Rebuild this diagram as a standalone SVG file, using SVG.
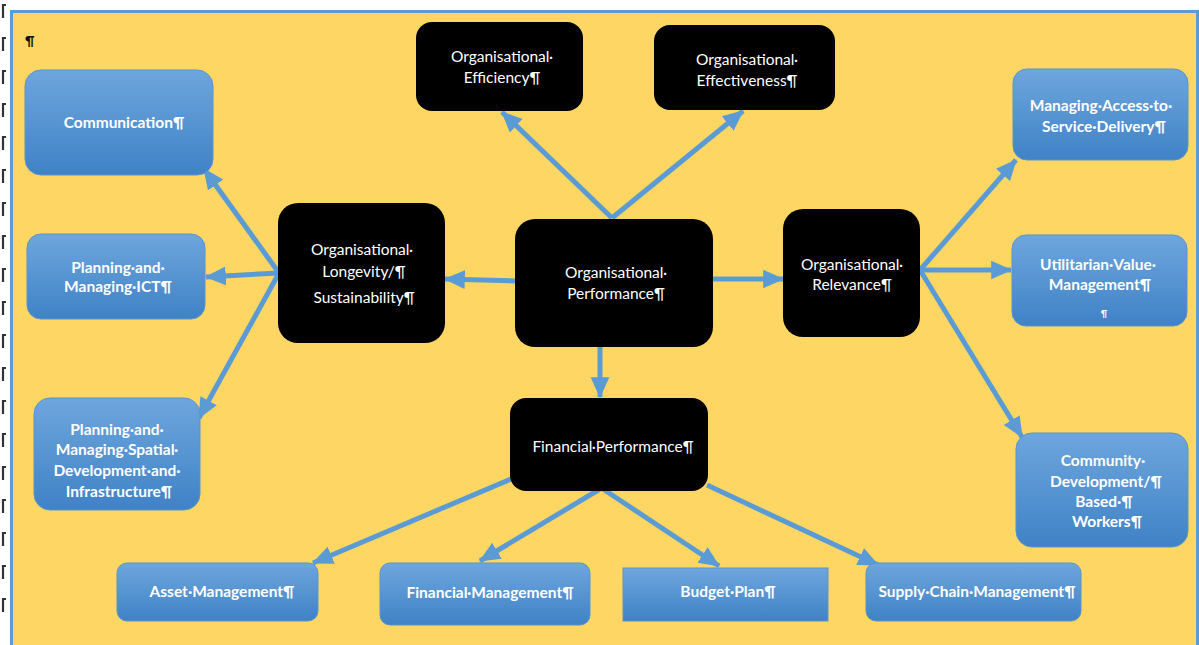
<svg xmlns="http://www.w3.org/2000/svg" width="1199" height="645" viewBox="0 0 1199 645">
  <defs>
    <linearGradient id="blueFill" x1="0" y1="0" x2="0" y2="1">
      <stop offset="0" stop-color="#6ea6dd"/>
      <stop offset="1" stop-color="#3f82c6"/>
    </linearGradient>
    <marker id="arrow" markerUnits="userSpaceOnUse" markerWidth="22" markerHeight="22" viewBox="0 0 20 20" refX="18" refY="10" orient="auto">
      <path d="M0,1.5 L19,10 L0,18.5 Z" fill="#5b9bd5"/>
    </marker>
    <style>
      .frame { fill: #fdd663; stroke: #5b9bd5; stroke-width: 3; }
      .mark { fill: none; stroke: #333; stroke-width: 2.2; }
      .blue { fill: url(#blueFill); stroke: #5b93cc; stroke-width: 1; }
      .black { fill: #000; }
      .bt { font-family: Lato, "Liberation Sans", sans-serif; font-weight: bold; font-size: 15.5px; fill: #fff; text-anchor: middle; }
      .wt { font-family: Lato, "Liberation Sans", sans-serif; font-size: 15.5px; fill: #fff; text-anchor: middle; }
      .link { fill: none; stroke: #5b9bd5; stroke-width: 5; marker-end: url(#arrow); }
      .pil { font-family: Lato, "Liberation Sans", sans-serif; font-weight: bold; font-size: 13px; fill: #111; }
    </style>
  </defs>

  <rect width="1199" height="645" fill="#fff"/>

  <!-- text boundary marks in the left margin -->
  <g id="margin-marks">
    <path class="mark" d="M6,5 h-3 v13 M6,38 h-3 v13 M6,71 h-3 v13 M6,104 h-3 v13 M6,137 h-3 v13 M6,170 h-3 v13 M6,203 h-3 v13 M6,236 h-3 v13 M6,269 h-3 v13 M6,302 h-3 v13 M6,335 h-3 v13 M6,368 h-3 v13 M6,401 h-3 v13 M6,434 h-3 v13 M6,467 h-3 v13 M6,500 h-3 v13 M6,533 h-3 v13 M6,566 h-3 v13 M6,599 h-3 v13"/>
  </g>

  <!-- canvas -->
  <rect class="frame" x="11.5" y="11.5" width="1186" height="640"/>
  <text class="pil" x="25" y="46">¶</text>

  <!-- connectors -->
  <g id="connectors">
    <line class="link" x1="612" y1="218" x2="502" y2="112"/>
    <line class="link" x1="612" y1="218" x2="743" y2="111"/>
    <line class="link" x1="279" y1="273" x2="204" y2="169"/>
    <line class="link" x1="279" y1="273" x2="206" y2="277"/>
    <line class="link" x1="279" y1="273" x2="199" y2="418"/>
    <line class="link" x1="515" y1="281" x2="445" y2="279"/>
    <line class="link" x1="713" y1="279" x2="783" y2="279"/>
    <line class="link" x1="600" y1="347" x2="600" y2="397"/>
    <line class="link" x1="920" y1="270" x2="1016" y2="160"/>
    <line class="link" x1="920" y1="270" x2="1011" y2="270"/>
    <line class="link" x1="920" y1="270" x2="1022" y2="437"/>
    <line class="link" x1="511" y1="479" x2="313" y2="563"/>
    <line class="link" x1="600" y1="489" x2="480" y2="561"/>
    <line class="link" x1="603" y1="489" x2="719" y2="566"/>
    <line class="link" x1="707" y1="485" x2="878" y2="565"/>
  </g>

  <!-- central and secondary nodes -->
  <g id="org-performance">
    <rect class="black" x="515" y="219" width="198" height="128" rx="20"/>
    <text class="wt" x="616" y="278">Organisational·</text>
    <text class="wt" x="616" y="299">Performance¶</text>
  </g>
  <g id="org-efficiency">
    <rect class="black" x="416" y="22" width="167" height="89" rx="16"/>
    <text class="wt" x="502" y="62">Organisational·</text>
    <text class="wt" x="502" y="83">Efficiency¶</text>
  </g>
  <g id="org-effectiveness">
    <rect class="black" x="654" y="25" width="181" height="85" rx="16"/>
    <text class="wt" x="747" y="65">Organisational·</text>
    <text class="wt" x="747" y="86">Effectiveness¶</text>
  </g>
  <g id="org-longevity">
    <rect class="black" x="278" y="203" width="167" height="140" rx="20"/>
    <text class="wt" x="362" y="255">Organisational·</text>
    <text class="wt" x="364" y="277">Longevity/¶</text>
    <text class="wt" x="364" y="303">Sustainability¶</text>
  </g>
  <g id="org-relevance">
    <rect class="black" x="783" y="209" width="137" height="128" rx="20"/>
    <text class="wt" x="852" y="270">Organisational·</text>
    <text class="wt" x="852" y="290">Relevance¶</text>
  </g>
  <g id="financial-performance">
    <rect class="black" x="510" y="398" width="198" height="93" rx="16"/>
    <text class="wt" x="613" y="452">Financial·Performance¶</text>
  </g>

  <!-- left branch -->
  <g id="communication">
    <rect class="blue" x="25" y="70" width="188" height="105" rx="16"/>
    <text class="bt" x="124" y="128">Communication¶</text>
  </g>
  <g id="planning-ict">
    <rect class="blue" x="27" y="234" width="178" height="85" rx="14"/>
    <text class="bt" x="118" y="273">Planning·and·</text>
    <text class="bt" x="118" y="292">Managing·ICT¶</text>
  </g>
  <g id="planning-spatial">
    <rect class="blue" x="34" y="398" width="166" height="112" rx="16"/>
    <text class="bt" x="117" y="435">Planning·and·</text>
    <text class="bt" x="117" y="455">Managing·Spatial·</text>
    <text class="bt" x="117" y="476">Development·and·</text>
    <text class="bt" x="119" y="497">Infrastructure¶</text>
  </g>

  <!-- right branch -->
  <g id="managing-access">
    <rect class="blue" x="1013" y="69" width="175" height="91" rx="14"/>
    <text class="bt" x="1101" y="111">Managing·Access·to·</text>
    <text class="bt" x="1104" y="132">Service·Delivery¶</text>
  </g>
  <g id="utilitarian-value">
    <rect class="blue" x="1012" y="235" width="175" height="91" rx="14"/>
    <text class="bt" x="1098" y="270">Utilitarian·Value·</text>
    <text class="bt" x="1100" y="290">Management¶</text>
    <text class="bt" x="1104" y="317" style="font-size:9px">¶</text>
  </g>
  <g id="community-development">
    <rect class="blue" x="1016" y="433" width="172" height="114" rx="16"/>
    <text class="bt" x="1103" y="466">Community·</text>
    <text class="bt" x="1106" y="487">Development/¶</text>
    <text class="bt" x="1104" y="507">Based·¶</text>
    <text class="bt" x="1107" y="527">Workers¶</text>
  </g>

  <!-- financial branch -->
  <g id="asset-management">
    <rect class="blue" x="117" y="563" width="201" height="58" rx="10"/>
    <text class="bt" x="222" y="597">Asset·Management¶</text>
  </g>
  <g id="financial-management">
    <rect class="blue" x="380" y="563" width="210" height="62" rx="10"/>
    <text class="bt" x="490" y="598">Financial·Management¶</text>
  </g>
  <g id="budget-plan">
    <rect class="blue" x="623" y="568" width="205" height="53"/>
    <text class="bt" x="728" y="597">Budget·Plan¶</text>
  </g>
  <g id="supply-chain">
    <rect class="blue" x="866" y="563" width="215" height="58" rx="10"/>
    <text class="bt" x="977" y="597">Supply·Chain·Management¶</text>
  </g>
</svg>
